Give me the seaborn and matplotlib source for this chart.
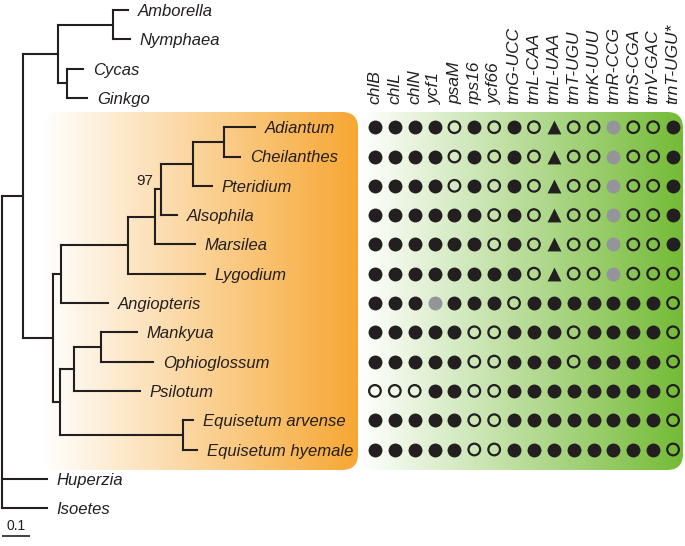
import numpy as np
import pandas as pd
import matplotlib
matplotlib.use("Agg")
import matplotlib.pyplot as plt
from matplotlib.patches import FancyBboxPatch
from matplotlib.collections import LineCollection
import seaborn as sns

plt.rcParams['font.family'] = ['Liberation Sans', 'DejaVu Sans']

# plastid phylogeny, branch lengths in substitutions/site
# internal label = bootstrap support
newick = ("((((Amborella:0.054,Nymphaea:0.061):0.196,(Cycas:0.057,Ginkgo:0.072):0.032):0.125,"
          "(((((((Adiantum:0.111,Cheilanthes:0.057):0.111,Pteridium:0.068):0.114,Alsophila:0.057)97:0.022,"
          "Marsilea:0.143):0.096,Lygodium:0.275):0.239,Angiopteris:0.168):0.029,"
          "(((Mankyua:0.128,Ophioglossum:0.185):0.097,Psilotum:0.236):0.05,"
          "(Equisetum arvense:0.036,Equisetum hyemale:0.05):0.439):0.025):0.107):0.075,"
          "Huperzia:0.161,Isoetes:0.161);")

genes = ['chlB', 'chlL', 'chlN', 'ycf1', 'psaM', 'rps16', 'ycf66', 'trnG-UCC',
         'trnL-CAA', 'trnL-UAA', 'trnT-UGU', 'trnK-UUU', 'trnR-CCG', 'trnS-CGA',
         'trnV-GAC', 'trnT-UGU*']

# F = present, O = absent, G = grey (pseudogene), T = triangle
matrix_taxa = ['Adiantum', 'Cheilanthes', 'Pteridium', 'Alsophila', 'Marsilea',
               'Lygodium', 'Angiopteris', 'Mankyua', 'Ophioglossum', 'Psilotum',
               'Equisetum arvense', 'Equisetum hyemale']
matrix_codes = ['FFFFOFOFOTOOGOOF',
                'FFFFOFOFOTOOGOOF',
                'FFFFOFOFOTOOGOOF',
                'FFFFFFOFOTOOGOOF',
                'FFFFFFOFOTOOGOOF',
                'FFFFFFFFOTOOGOOO',
                'FFFGFFFOFFFFFFFO',
                'FFFFFOOFFFOFFFFO',
                'FFFFFOOFFFOFFFFO',
                'OOOFFOOFFFFFFFFO',
                'FFFFFOOFFFFFFFFO',
                'FFFFFOOFFFFFFFFO']

scale_len = 0.1


def parse(s, i=0):
    kids = []
    if s[i] == '(':
        i += 1
        while True:
            kid, i = parse(s, i)
            kids.append(kid)
            i += 1
            if s[i - 1] == ')':
                break
    j = i
    while s[j] not in ':,);':
        j += 1
    name = s[i:j]
    i = j
    length = 0.0
    if s[i] == ':':
        j = i + 1
        while s[j] not in ',);':
            j += 1
        length = float(s[i + 1:j])
        i = j
    return {'name': name, 'len': length, 'kids': kids}, i


tree, _ = parse(newick)

tips = []


def layout(node, x0):
    node['x'] = x0 + node['len']
    if node['kids']:
        for k in node['kids']:
            layout(k, node['x'])
        node['y'] = (node['kids'][0]['y'] + node['kids'][-1]['y']) / 2
    else:
        node['y'] = len(tips)
        tips.append(node)


layout(tree, 0.0)
tip_row = {t['name']: t['y'] for t in tips}

# ---- figure / layout (pixels of the 685x546 canvas)
W, H = 685, 546
PX_UNIT = 280.0   # pixels per substitution unit
ROOT_PX = 2.0
ROW0, ROW_PX = 10.0, 29.3
dark = '#231f20'

fig = plt.figure(figsize=(6.85, 5.46), dpi=100)

bg = fig.add_axes([0, 0, 1, 1])
bg.axis('off')


def grad_box(x0, x1, y0, y1, c_right):
    patch = FancyBboxPatch((x0, y0), x1 - x0, y1 - y0,
                           boxstyle='round,pad=0,rounding_size=16', fc='none', ec='none')
    bg.add_patch(patch)
    rgb = np.array(matplotlib.colors.to_rgb(c_right))
    t = np.linspace(0, 1, 256)[:, None]
    img = (1 - t) * np.ones(3) + t * rgb
    im = bg.imshow(img[None, :, :], extent=(x0, x1, y1, y0), aspect='auto',
                   interpolation='bilinear')
    im.set_clip_path(patch)


grad_box(43, 358, 112, 470, '#f7a733')
grad_box(360, 683, 112, 470, '#74bb36')
bg.set_xlim(0, W)
bg.set_ylim(H, 0)

ylim = ((H - ROW0) / ROW_PX, -ROW0 / ROW_PX)

# ---- tree
ax = fig.add_axes([0, 0, 1, 1])
ax.patch.set_alpha(0)
ax.axis('off')
ax.set_xlim(-ROOT_PX / PX_UNIT, (W - ROOT_PX) / PX_UNIT)
ax.set_ylim(*ylim)

segs = []


def collect(node):
    if not node['kids']:
        return
    ys = [k['y'] for k in node['kids']]
    segs.append([(node['x'], min(ys)), (node['x'], max(ys))])
    for k in node['kids']:
        segs.append([(node['x'], k['y']), (k['x'], k['y'])])
        if k['name'] and k['kids']:
            ax.annotate(k['name'], xy=(node['x'], k['y']), xytext=(-1, 1),
                        textcoords='offset points', ha='right', va='bottom',
                        fontsize=11, color=dark)
        collect(k)


collect(tree)
ax.add_collection(LineCollection(segs, colors=dark, linewidths=1.5,
                                 capstyle='projecting'))

for t in tips:
    ax.annotate(t['name'], xy=(t['x'], t['y']), xytext=(7, 0),
                textcoords='offset points', ha='left', va='center_baseline',
                fontsize=12, style='italic', color=dark)

# scale bar
bar_y = len(tips) - 1 + 0.95
ax.plot([0, scale_len], [bar_y, bar_y], color=dark, lw=1.2, solid_capstyle='butt')
ax.annotate(f'{scale_len:g}', xy=(scale_len / 2, bar_y), xytext=(0, 2),
            textcoords='offset points', ha='center', va='bottom', fontsize=10, color=dark)

# ---- gene presence matrix
rows = []
for taxon, code in zip(matrix_taxa, matrix_codes):
    for j, c in enumerate(code):
        rows.append({'taxon': taxon, 'gene': genes[j], 'col': j,
                     'row': tip_row[taxon], 'state': c})
df = pd.DataFrame(rows)

axm = fig.add_axes([365 / W, 0, 318 / W, 1])
axm.patch.set_alpha(0)

sns.scatterplot(data=df[df.state == 'F'], x='col', y='row', ax=axm, marker='o',
                s=100, color=dark, linewidth=0, legend=False)
sns.scatterplot(data=df[df.state == 'G'], x='col', y='row', ax=axm, marker='o',
                s=100, color='#939598', linewidth=0, legend=False)
sns.scatterplot(data=df[df.state == 'T'], x='col', y='row', ax=axm, marker='^',
                s=100, color=dark, linewidth=0, legend=False)
sns.scatterplot(data=df[df.state == 'O'], x='col', y='row', ax=axm, marker='o',
                s=70, facecolors='none', edgecolor=dark, linewidth=1.6, legend=False)

axm.set_xlim(-0.5, len(genes) - 0.5)
axm.set_ylim(*ylim)
axm.axis('off')

label_y = min(tip_row[t] for t in matrix_taxa) - 0.8
for j, g in enumerate(genes):
    axm.text(j, label_y, g, rotation=90, ha='center', va='bottom',
             fontsize=12.5, style='italic', color=dark)

fig.savefig('out.png', dpi=100)
